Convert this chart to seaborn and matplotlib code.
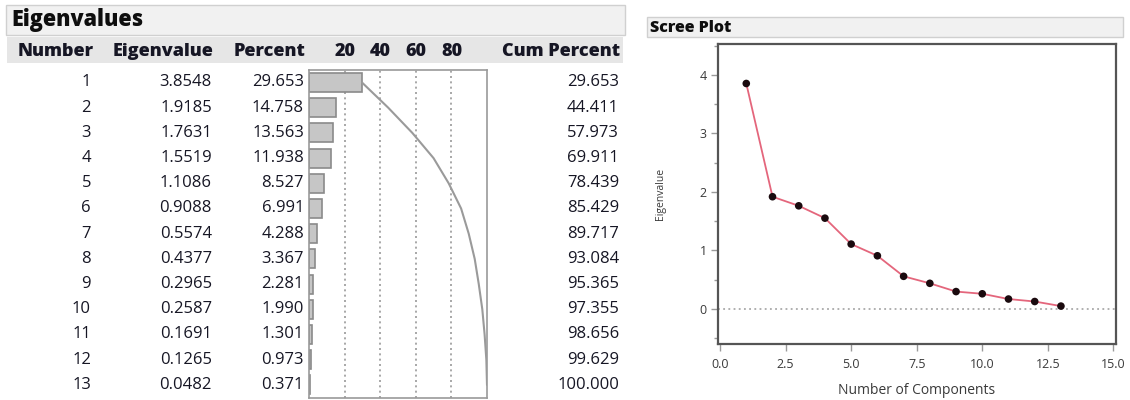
import numpy as np
import pandas as pd
import matplotlib
matplotlib.use("Agg")
import matplotlib.pyplot as plt
from matplotlib.patches import Rectangle
from matplotlib.ticker import MultipleLocator, FixedLocator
import seaborn as sns

# Principal component eigenvalues
numbers = [1, 2, 3, 4, 5, 6, 7, 8, 9, 10, 11, 12, 13]
eigenvalues = ["3.8548", "1.9185", "1.7631", "1.5519", "1.1086", "0.9088", "0.5574",
               "0.4377", "0.2965", "0.2587", "0.1691", "0.1265", "0.0482"]
percents = ["29.653", "14.758", "13.563", "11.938", "8.527", "6.991", "4.288",
            "3.367", "2.281", "1.990", "1.301", "0.973", "0.371"]
cum_percents = ["29.653", "44.411", "57.973", "69.911", "78.439", "85.429", "89.717",
                "93.084", "95.365", "97.355", "98.656", "99.629", "100.000"]
percent_ticks = [20, 40, 60, 80]

df = pd.DataFrame({
    "Number": numbers,
    "Label": [str(n) for n in numbers],
    "Eigenvalue": [float(v) for v in eigenvalues],
    "Percent": [float(v) for v in percents],
    "Cum Percent": [float(v) for v in cum_percents],
})

sns.set_theme(style="white")
plt.rcParams["font.family"] = ["Open Sans", "DejaVu Sans"]

W, H = 1130, 400
fig = plt.figure(figsize=(W / 100, H / 100), dpi=100)
fig.patch.set_facecolor("white")


def rect(left, top, right, bottom):
    return [left / W, 1 - bottom / H, (right - left) / W, (bottom - top) / H]


TXT = "#161624"

# ---- Table canvas (pixel coordinates) ----
tab = fig.add_axes([0, 0, 1, 1])
tab.set_xlim(0, W)
tab.set_ylim(H, 0)
tab.axis("off")

tab.add_patch(Rectangle((6, 5), 619, 30, facecolor="#f1f1f1", edgecolor="#d0d0d0", lw=1))
tab.text(11, 20, "Eigenvalues", fontsize=15.5, fontweight="heavy", color="#0e0e0e",
         va="center", ha="left")
tab.add_patch(Rectangle((7, 37), 616, 26, facecolor="#e6e6e6", edgecolor="none"))

hdr_y = 52
HW = "heavy"
tab.text(94, hdr_y, "Number", fontsize=13, fontweight=HW, color=TXT, ha="right", va="center")
tab.text(213, hdr_y, "Eigenvalue", fontsize=13, fontweight=HW, color=TXT, ha="right", va="center")
tab.text(305, hdr_y, "Percent", fontsize=13, fontweight=HW, color=TXT, ha="right", va="center")
tab.text(620, hdr_y, "Cum Percent", fontsize=13, fontweight=HW, color=TXT, ha="right", va="center")

bar_left, bar_right = 309.3, 487.0
row0, row_h = 82.5, 25.2
for t in percent_ticks:
    xp = bar_left + (bar_right - bar_left) * t / 100
    tab.text(xp, hdr_y, str(t), fontsize=13, fontweight=HW, color=TXT, ha="center", va="center")

VW = "medium"
for i in range(len(numbers)):
    y = row0 + i * row_h
    tab.text(91, y, str(numbers[i]), fontsize=12, fontweight=VW, color=TXT, ha="right", va="center")
    tab.text(212, y, eigenvalues[i], fontsize=12, fontweight=VW, color=TXT, ha="right", va="center")
    tab.text(304, y, percents[i], fontsize=12, fontweight=VW, color=TXT, ha="right", va="center")
    tab.text(619, y, cum_percents[i], fontsize=12, fontweight=VW, color=TXT, ha="right", va="center")

# ---- Percent bars with cumulative curve ----
box_top = row0 - row_h / 2
box_bot = row0 + 12 * row_h + row_h / 2
bx = fig.add_axes(rect(bar_left, box_top, bar_right, box_bot))
sns.barplot(data=df, x="Percent", y="Label", orient="h", color="#c6c6c6",
            edgecolor="#8a8a8a", linewidth=1.2, width=0.76, saturation=1, ax=bx)
for t in percent_ticks:
    bx.axvline(t, color="#9a9a9a", lw=1.2, ls=(0, (1.2, 2.0)), zorder=0)
bx.plot(df["Cum Percent"], np.arange(len(df)), color="#9a9a9a", lw=1.5)
bx.set_xlim(0, 100)
bx.set_ylim(len(df) - 0.5, -0.5)
bx.set_xlabel("")
bx.set_ylabel("")
bx.set_xticks([])
bx.set_yticks([])
for s in bx.spines.values():
    s.set_color("#9a9a9a")
    s.set_linewidth(1.2)

# ---- Scree plot ----
tab.add_patch(Rectangle((647, 17), 476, 20, facecolor="#f1f1f1", edgecolor="#d0d0d0", lw=1))
tab.text(650, 27.5, "Scree Plot", fontsize=11.5, fontweight="heavy", color="#0e0e0e",
         va="center", ha="left")

sx = fig.add_axes(rect(717.7, 44, 1116, 344))
sx.axhline(0, color="#9a9a9a", lw=1.1, ls=(0, (1.2, 2.2)), zorder=1)
sns.lineplot(data=df, x="Number", y="Eigenvalue", color="#e4667c", lw=1.3, ax=sx, zorder=2)
sns.scatterplot(data=df, x="Number", y="Eigenvalue", color="#1a0a0e", s=30,
                edgecolor="none", ax=sx, zorder=3)
sx.set_xlim(-0.09, 15.1)
sx.set_ylim(-0.6, 4.53)
sx.xaxis.set_major_locator(FixedLocator([0, 2.5, 5, 7.5, 10, 12.5, 15]))
sx.set_xticklabels(["0.0", "2.5", "5.0", "7.5", "10.0", "12.5", "15.0"])
sx.yaxis.set_major_locator(MultipleLocator(1))
sx.yaxis.set_minor_locator(MultipleLocator(0.5))
sx.tick_params(axis="both", which="both", direction="out", color="#9a9a9a",
               labelcolor="#3a3a3a", labelsize=9, left=True, bottom=True)
sx.tick_params(axis="y", which="major", length=5, width=1, pad=3)
sx.tick_params(axis="y", which="minor", length=3, width=1)
sx.tick_params(axis="x", which="major", length=5, width=1, pad=5)
sx.set_xlabel("Number of Components", fontsize=10, color="#3a3a3a", labelpad=9)
sx.set_ylabel("Eigenvalue", fontsize=7.5, color="#3a3a3a", labelpad=24)
for s in sx.spines.values():
    s.set_color("#555555")
    s.set_linewidth(1.6)

fig.savefig("out.png", dpi=100, facecolor="white")
